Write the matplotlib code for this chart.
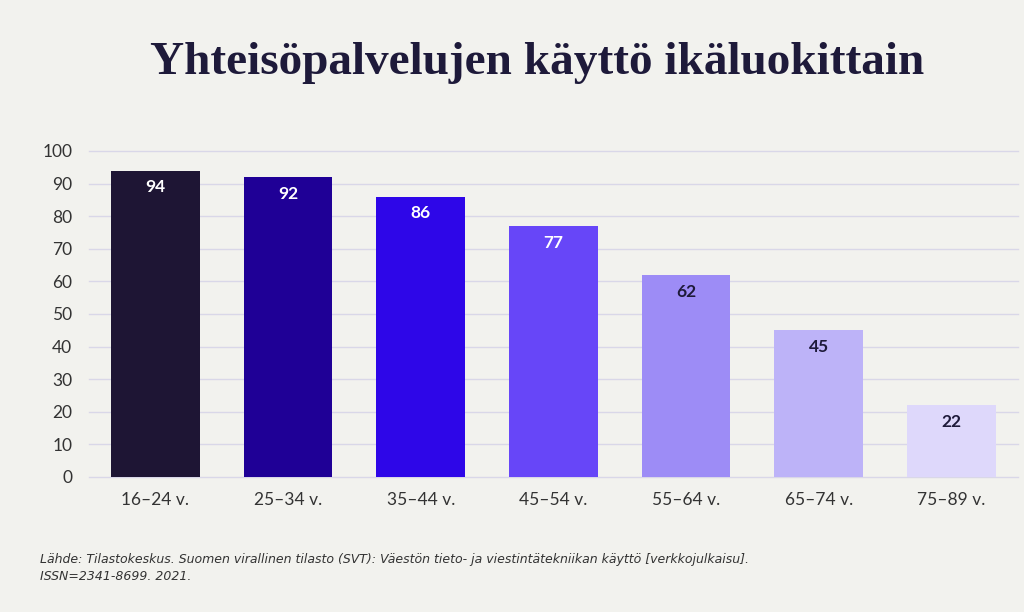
import matplotlib.pyplot as plt

categories = ["16–24 v.", "25–34 v.", "35–44 v.", "45–54 v.", "55–64 v.", "65–74 v.", "75–89 v."]
values = [94, 92, 86, 77, 62, 45, 22]
colors = ["#1e1534", "#1f0096", "#2e06e8", "#6746f8", "#9d8cf6", "#bdb3f8", "#ded8fb"]
label_colors = ["white", "white", "white", "white", "#1e1a3a", "#1e1a3a", "#1e1a3a"]
yticks = [0, 10, 20, 30, 40, 50, 60, 70, 80, 90, 100]

bg = "#f2f2ee"
plt.rcParams['font.family'] = ['Lato', 'DejaVu Sans']

fig = plt.figure(figsize=(10.24, 6.12), dpi=100, facecolor=bg)
ax = fig.add_axes([0.0869, 0.2206, 0.907, 0.5327], facecolor=bg)

x = range(len(categories))
bars = ax.bar(x, values, width=0.67, color=colors, zorder=3)
for i, b in enumerate(bars):
    ax.annotate(str(values[i]), (b.get_x() + b.get_width() / 2, b.get_height()),
                xytext=(0, -12), textcoords="offset points", ha="center", va="center",
                fontsize=12.5, fontweight="bold", color=label_colors[i], zorder=4)

ax.set_xlim(-0.5, 6.5)
ax.set_ylim(0, 100)
ax.set_yticks(yticks)
ax.set_xticks(list(x))
ax.set_xticklabels(categories)
for y in yticks:
    ax.axhline(y, color="#d9d7e8", lw=1, zorder=1, clip_on=False)
for s in ax.spines.values():
    s.set_visible(False)
ax.tick_params(axis="both", length=0, labelsize=12.5, colors="#333333")
ax.tick_params(axis="x", pad=11)
ax.tick_params(axis="y", pad=12)

fig.text(0.525, 0.897, "Yhteisöpalvelujen käyttö ikäluokittain", ha="center", va="center",
         fontsize=34, fontweight="bold", family="Liberation Serif", color="#1e1a3a")

fig.text(0.039, 0.072, "Lähde: Tilastokeskus. Suomen virallinen tilasto (SVT): Väestön tieto- ja viestintätekniikan käyttö [verkkojulkaisu].\nISSN=2341-8699. 2021.",
         ha="left", va="center", fontsize=9, style="italic", family="DejaVu Sans",
         color="#333333", linespacing=1.4)

fig.savefig("out.png", dpi=100, facecolor=bg)
